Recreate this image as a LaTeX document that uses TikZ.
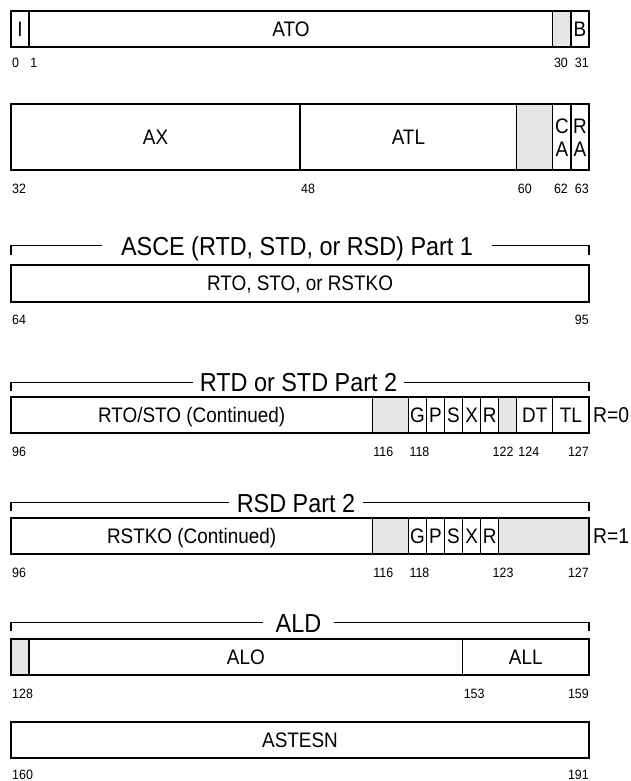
\documentclass[tikz,border=0pt]{standalone}
\usepackage{fontspec}
\setmainfont{Liberation Sans}
\newfontfamily\narrowfont[FakeStretch=0.9]{Liberation Sans}
\newfontfamily\labelfont[FakeStretch=0.92]{Liberation Sans}
\definecolor{cellgray}{HTML}{E6E6E6}
\newcommand\bxx[1]{11+18.0625*(#1)}
% cell: [options] {from bit}{to bit}{top}{bottom}
\newcommand\regcell[5][]{\draw[cellline,#1] ({\bxx{#2}},#4) rectangle ({\bxx{#3}},#5);}
\newcommand\regbox[2]{\draw[outerline] (11,#1) rectangle (589,#2);}
\tikzset{
  cellline/.style={line width=1.2pt, draw=black},
  graycell/.style={fill=cellgray},
  outerline/.style={line width=1.7pt, draw=black},
  boxtext/.style={font=\narrowfont\fontsize{21}{24}\selectfont, inner sep=0pt, text height=15pt, text depth=0pt, anchor=center},
  headtext/.style={font=\narrowfont\fontsize{26}{30}\selectfont, inner ysep=0pt, text height=18.6pt, text depth=0pt, anchor=center},
  headline/.style={line width=1.4pt},
  bitlabel/.style={font=\labelfont\fontsize{13.5}{15}\selectfont, inner sep=0pt, anchor=base west},
  bitlabelr/.style={font=\labelfont\fontsize{13.5}{15}\selectfont, inner sep=0pt, anchor=base east},
  rlabel/.style={font=\narrowfont\fontsize{21.5}{24}\selectfont, inner sep=0pt, text height=15.4pt, text depth=0pt, anchor=west},
}
\begin{document}
\begin{tikzpicture}[x=1pt, y=-1pt]
\useasboundingbox (0,0) rectangle (630,781);

% ---------- Row 1 : bits 0-31 ----------
\regcell{0}{1}{11}{47.3}
\regcell{1}{30}{11}{47.3}
\regcell[graycell]{30}{31}{11}{47.3}
\regcell{31}{32}{11}{47.3}
\regbox{11}{47.3}
\node[boxtext] (fI) at ({\bxx{0.5}},29.15) {I};
\node[boxtext] (fATO) at ({\bxx{15.5}},29.15) {ATO};
\node[boxtext] (fB) at ({\bxx{31.5}},29.15) {B};
\node[bitlabel] (l0) at ({\bxx{0}+1},67.8) {0};
\node[bitlabel] (l1) at ({\bxx{1}+1},67.8) {1};
\node[bitlabel] (l30) at ({\bxx{30}+1},67.8) {30};
\node[bitlabelr] (l31) at (589,67.8) {31};

% ---------- Row 2 : bits 32-63 ----------
\regcell{0}{16}{104}{170}
\regcell{16}{28}{104}{170}
\regcell[graycell]{28}{30}{104}{170}
\regcell{30}{31}{104}{170}
\regcell{31}{32}{104}{170}
\regbox{104}{170}
\node[boxtext] (fAX) at ({\bxx{8}},137) {AX};
\node[boxtext] (fATL) at ({\bxx{22}},137) {ATL};
\node[boxtext] (fCA1) at ({\bxx{30.5}},126.5) {C};
\node[boxtext] (fCA2) at ({\bxx{30.5}},148.5) {A};
\node[boxtext] (fRA1) at ({\bxx{31.5}},126.5) {R};
\node[boxtext] (fRA2) at ({\bxx{31.5}},148.5) {A};
\node[bitlabel] (l32) at ({\bxx{0}+1},193.1) {32};
\node[bitlabel] (l48) at ({\bxx{16}+1},193.1) {48};
\node[bitlabel] (l60) at ({\bxx{28}+1},193.1) {60};
\node[bitlabel] (l62) at ({\bxx{30}+1},193.1) {62};
\node[bitlabelr] (l63) at (589,193.1) {63};

% ---------- Row 3 : bits 64-95 ----------
\node[headtext, inner xsep=19pt] (h3) at (297,245.7) {ASCE (RTD, STD, or RSD) Part 1};
\draw[headline] (11,254.5) -- (11,245.7) -- (h3.west);
\draw[headline] (h3.east) -- (589,245.7) -- (589,254.5);
\regcell{0}{32}{265}{301.7}
\regbox{265}{301.7}
\node[boxtext] (fRTO) at ({\bxx{16}},283.35) {RTO, STO, or RSTKO};
\node[bitlabel] (l64) at ({\bxx{0}+1},324.1) {64};
\node[bitlabelr] (l95) at (589,324.1) {95};

% ---------- Row 4 : bits 96-127 (R=0) ----------
\node[headtext, inner xsep=7pt] (h4) at (298.5,382.3) {RTD or STD Part 2};
\draw[headline] (11,391) -- (11,382.3) -- (h4.west);
\draw[headline] (h4.east) -- (589,382.3) -- (589,391);
\regcell{0}{20}{396.7}{432.7}
\regcell[graycell]{20}{22}{396.7}{432.7}
\regcell{22}{23}{396.7}{432.7}
\regcell{23}{24}{396.7}{432.7}
\regcell{24}{25}{396.7}{432.7}
\regcell{25}{26}{396.7}{432.7}
\regcell{26}{27}{396.7}{432.7}
\regcell[graycell]{27}{28}{396.7}{432.7}
\regcell{28}{30}{396.7}{432.7}
\regcell{30}{32}{396.7}{432.7}
\regbox{396.7}{432.7}
\node[boxtext] (fRTOc) at ({\bxx{10}},414.7) {RTO/STO (Continued)};
\node[boxtext] (fG4) at ({\bxx{22.5}},414.7) {G};
\node[boxtext] (fP4) at ({\bxx{23.5}},414.7) {P};
\node[boxtext] (fS4) at ({\bxx{24.5}},414.7) {S};
\node[boxtext] (fX4) at ({\bxx{25.5}},414.7) {X};
\node[boxtext] (fR4) at ({\bxx{26.5}},414.7) {R};
\node[boxtext] (fDT) at ({\bxx{29}},414.7) {DT};
\node[boxtext] (fTL) at ({\bxx{31}},414.7) {TL};
\node[rlabel] (r0) at (593,414.7) {R=0};
\node[bitlabel] (l96a) at ({\bxx{0}+1},456.5) {96};
\node[bitlabel] (l116a) at ({\bxx{20}+1},456.5) {116};
\node[bitlabel] (l118a) at ({\bxx{22}+1},456.5) {118};
\node[bitlabel] (l122) at (492.5,456.5) {122};
\node[bitlabel] (l124) at ({\bxx{28}+1.5},456.5) {124};
\node[bitlabelr] (l127a) at (589,456.5) {127};

% ---------- Row 5 : bits 96-127 (R=1) ----------
\node[headtext, inner xsep=8pt] (h5) at (296,502.7) {RSD Part 2};
\draw[headline] (11,511.4) -- (11,502.7) -- (h5.west);
\draw[headline] (h5.east) -- (589,502.7) -- (589,511.4);
\regcell{0}{20}{517.7}{554}
\regcell[graycell]{20}{22}{517.7}{554}
\regcell{22}{23}{517.7}{554}
\regcell{23}{24}{517.7}{554}
\regcell{24}{25}{517.7}{554}
\regcell{25}{26}{517.7}{554}
\regcell{26}{27}{517.7}{554}
\regcell[graycell]{27}{32}{517.7}{554}
\regbox{517.7}{554}
\node[boxtext] (fRSTKOc) at ({\bxx{10}},535.85) {RSTKO (Continued)};
\node[boxtext] (fG5) at ({\bxx{22.5}},535.85) {G};
\node[boxtext] (fP5) at ({\bxx{23.5}},535.85) {P};
\node[boxtext] (fS5) at ({\bxx{24.5}},535.85) {S};
\node[boxtext] (fX5) at ({\bxx{25.5}},535.85) {X};
\node[boxtext] (fR5) at ({\bxx{26.5}},535.85) {R};
\node[rlabel] (r1) at (593,535.85) {R=1};
\node[bitlabel] (l96b) at ({\bxx{0}+1},577.5) {96};
\node[bitlabel] (l116b) at ({\bxx{20}+1},577.5) {116};
\node[bitlabel] (l118b) at ({\bxx{22}+1},577.5) {118};
\node[bitlabel] (l123) at (492.5,577.5) {123};
\node[bitlabelr] (l127b) at (589,577.5) {127};

% ---------- Row 6 : bits 128-159 ----------
\node[headtext, inner xsep=13pt] (h6) at (298.5,622.7) {ALD};
\draw[headline] (11,631.4) -- (11,622.7) -- (h6.west);
\draw[headline] (h6.east) -- (589,622.7) -- (589,631.4);
\regcell[graycell]{0}{1}{638.7}{675}
\regcell{1}{25}{638.7}{675}
\regcell{25}{32}{638.7}{675}
\regbox{638.7}{675}
\node[boxtext] (fALO) at ({\bxx{13}},656.85) {ALO};
\node[boxtext] (fALL) at ({\bxx{28.5}},656.85) {ALL};
\node[bitlabel] (l128) at ({\bxx{0}+1},698.1) {128};
\node[bitlabel] (l153) at ({\bxx{25}+1},698.1) {153};
\node[bitlabelr] (l159) at (589,698.1) {159};

% ---------- Row 7 : bits 160-191 ----------
\regcell{0}{32}{722.3}{758.3}
\regbox{722.3}{758.3}
\node[boxtext] (fASTESN) at ({\bxx{16}},740.3) {ASTESN};
\node[bitlabel] (l160) at ({\bxx{0}+1},779.6) {160};
\node[bitlabelr] (l191) at (589,779.6) {191};
\end{tikzpicture}
\end{document}
